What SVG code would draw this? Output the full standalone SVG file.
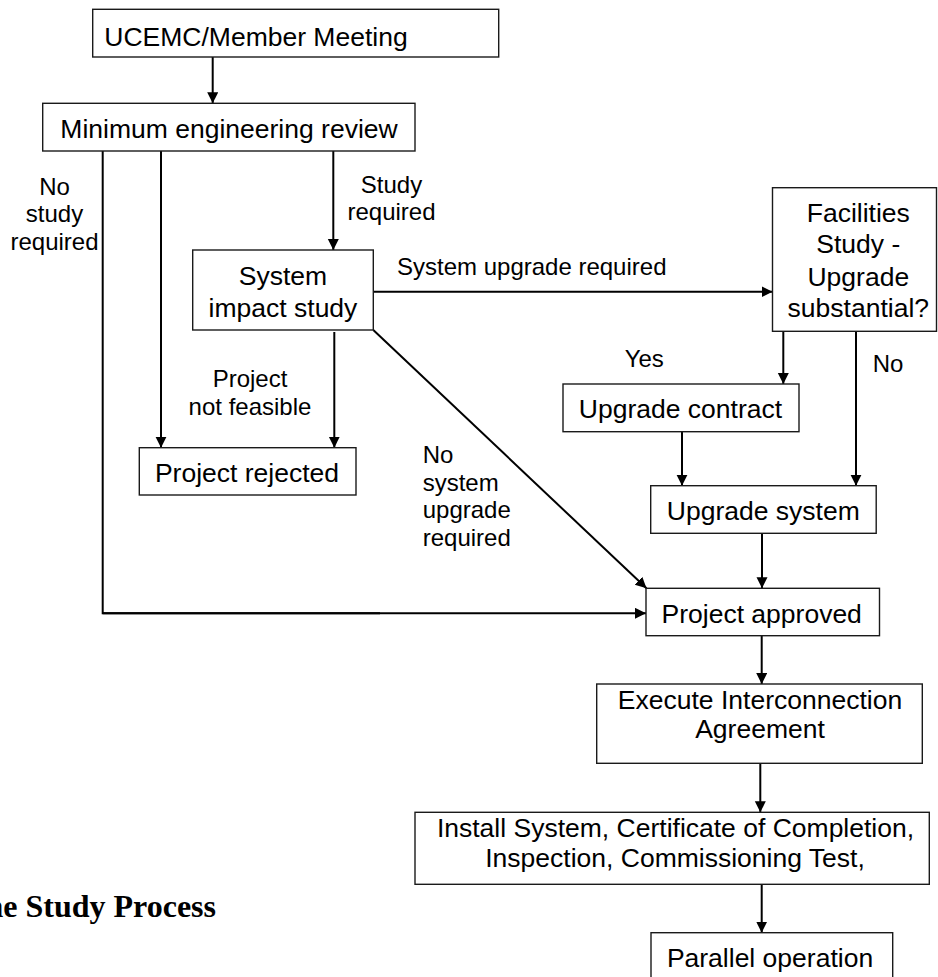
<svg xmlns="http://www.w3.org/2000/svg" width="938" height="977" viewBox="0 0 938 977">
<defs>
<marker id="ah" markerUnits="userSpaceOnUse" markerWidth="12" markerHeight="12" refX="11" refY="5.5" orient="auto">
<path d="M0,0 L11,5.5 L0,11 z" fill="#000"/>
</marker>
<style>
.box{fill:#fff;stroke:#1a1a1a;stroke-width:1.4}
.t{font-family:"Liberation Sans",Arial,sans-serif;font-size:26.5px;fill:#000;text-anchor:middle}
.l{font-family:"Liberation Sans",Arial,sans-serif;font-size:24px;fill:#000;text-anchor:middle}
.c{fill:none;stroke:#000;stroke-width:2}
.a{marker-end:url(#ah)}
.cap{font-family:"Liberation Serif","Times New Roman",serif;font-weight:bold;font-size:32px;fill:#000;text-anchor:end}
</style>
</defs>
<rect width="938" height="977" fill="#fff"/>
<g id="connectors">
<line class="c a" x1="212.7" y1="57" x2="212.7" y2="103.3"/>
<polyline class="c" points="102.7,151 102.7,613.3 380,613.3"/>
<line class="c a" x1="102.7" y1="613.3" x2="646" y2="613.3"/>
<line class="c a" x1="161" y1="151" x2="161" y2="447.7"/>
<line class="c a" x1="333.3" y1="151" x2="333.3" y2="250"/>
<line class="c a" x1="334.3" y1="332" x2="334.3" y2="447.7"/>
<line class="c a" x1="374" y1="291.8" x2="772.5" y2="291.8"/>
<line class="c a" x1="373.3" y1="330" x2="646.5" y2="588.3"/>
<line class="c a" x1="783.3" y1="331.3" x2="783.3" y2="384"/>
<line class="c a" x1="856" y1="331.3" x2="856" y2="485.7"/>
<line class="c a" x1="682" y1="431.7" x2="682" y2="485.7"/>
<line class="c a" x1="762" y1="533.3" x2="762" y2="588.3"/>
<line class="c a" x1="761.7" y1="635.7" x2="761.7" y2="684"/>
<line class="c a" x1="760.3" y1="763.3" x2="760.3" y2="812.3"/>
<line class="c a" x1="761.7" y1="884.3" x2="761.7" y2="932.7"/>
<text class="l" x="54.5" y="194.5">No</text>
<text class="l" x="54.5" y="222">study</text>
<text class="l" x="54.5" y="249.5">required</text>
<text class="l" x="391.5" y="192.7">Study</text>
<text class="l" x="391.5" y="220">required</text>
<text class="l" x="397" y="275" style="text-anchor:start">System upgrade required</text>
<text class="l" x="250" y="387.3">Project</text>
<text class="l" x="250" y="415">not feasible</text>
<text class="l" x="644.3" y="366.7">Yes</text>
<text class="l" x="872.7" y="372.3" style="text-anchor:start">No</text>
<text class="l" x="422.7" y="463.3" style="text-anchor:start">No</text>
<text class="l" x="422.7" y="490.7" style="text-anchor:start">system</text>
<text class="l" x="422.7" y="518.3" style="text-anchor:start">upgrade</text>
<text class="l" x="422.7" y="546" style="text-anchor:start">required</text>
</g>
<g id="n1"><rect class="box" x="92.7" y="9.3" width="406" height="47.7"/><text class="t" x="104.3" y="45.5" style="text-anchor:start">UCEMC/Member Meeting</text></g>
<g id="n2"><rect class="box" x="42.7" y="103.3" width="372.3" height="47.7"/><text class="t" x="229" y="138.3">Minimum engineering review</text></g>
<g id="n3"><rect class="box" x="192.7" y="250" width="180.6" height="80"/><text class="t" x="283" y="285">System</text><text class="t" x="283" y="316.7">impact study</text></g>
<g id="n4"><rect class="box" x="139.3" y="447.7" width="216.7" height="47.3"/><text class="t" x="247" y="481.7">Project rejected</text></g>
<g id="n5"><rect class="box" x="772.5" y="187.7" width="164" height="143.6"/><text class="t" x="858.3" y="221.7">Facilities</text><text class="t" x="858.3" y="253.3">Study -</text><text class="t" x="858.3" y="286">Upgrade</text><text class="t" x="858.3" y="317.3">substantial?</text></g>
<g id="n6"><rect class="box" x="563" y="384" width="236" height="47.7"/><text class="t" x="680.5" y="418.3">Upgrade contract</text></g>
<g id="n7"><rect class="box" x="650.7" y="485.7" width="225.5" height="47.6"/><text class="t" x="763.3" y="520">Upgrade system</text></g>
<g id="n8"><rect class="box" x="646" y="588.3" width="233.5" height="47.4"/><text class="t" x="761.7" y="622.7">Project approved</text></g>
<g id="n9"><rect class="box" x="596.7" y="684" width="325.6" height="79.3"/><text class="t" x="760" y="709.3">Execute Interconnection</text><text class="t" x="760" y="738.3">Agreement</text></g>
<g id="n10"><rect class="box" x="415" y="812.3" width="514.3" height="72"/><text class="t" x="675.5" y="837.3">Install System, Certificate of Completion,</text><text class="t" x="675" y="866.7">Inspection, Commissioning Test,</text></g>
<g id="n11"><rect class="box" x="651" y="932.7" width="241.7" height="60"/><text class="t" x="770" y="966.7">Parallel operation</text></g>
<text class="cap" x="216" y="916.7">he Study Process</text>
</svg>
